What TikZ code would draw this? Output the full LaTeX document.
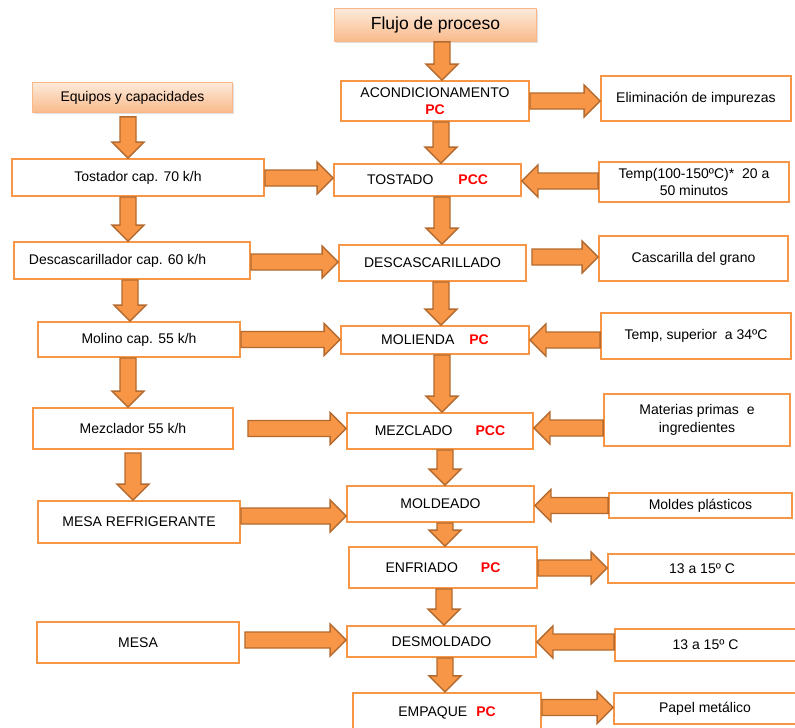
\documentclass[tikz,border=0pt]{standalone}
\usepackage{fontspec}
\setmainfont{Liberation Sans}
\usetikzlibrary{calc,shadows}

\definecolor{boxline}{RGB}{247,150,70}
\definecolor{arrowfill}{RGB}{247,150,70}
\definecolor{arrowline}{RGB}{180,106,46}
\definecolor{headtop}{RGB}{253,234,218}
\definecolor{headbottom}{RGB}{249,186,138}
\definecolor{headline}{RGB}{248,184,136}
\definecolor{critical}{RGB}{255,0,0}

% red bold mark for control points
\newcommand\crit[1]{\textcolor{critical}{\bfseries #1}}

% block arrow from a start point to a tip point
\newcommand\flowarrow[2]{%
  \path (#1) coordinate (fa-s);
  \path (#2) coordinate (fa-t);
  \path ($(fa-t)!16pt!(fa-s)$) coordinate (fa-b);
  \draw[blockarrow]
    ($(fa-s)!8pt!90:(fa-t)$) -- ($(fa-b)!8pt!90:(fa-t)$) --
    ($(fa-b)!16pt!90:(fa-t)$) -- (fa-t) --
    ($(fa-b)!16pt!-90:(fa-t)$) -- ($(fa-b)!8pt!-90:(fa-t)$) --
    ($(fa-s)!8pt!-90:(fa-t)$) -- cycle;}
% horizontal and vertical variants: the tip lies on the target's edge
\newcommand\flowh[2]{\flowarrow{#1}{#2 |- fa-s}}
\newcommand\flowv[2]{\flowarrow{#1}{fa-s |- #2}}

\begin{document}
\begin{tikzpicture}[x=1pt,y=-1pt,
  every node/.style={font=\fontsize{14}{17.5}\selectfont, inner sep=0pt},
  box/.style={draw=boxline, line width=2.4pt, fill=white, align=center},
  header/.style={draw=headline, line width=0.8pt, top color=headtop,
    bottom color=headbottom, align=center,
    drop shadow={shadow xshift=1.5pt, shadow yshift=-1.5pt, opacity=0.25}},
  blockarrow/.style={fill=arrowfill, draw=arrowline, line width=1.4pt,
    line join=miter}]

\useasboundingbox (0,0) rectangle (795,728);
\clip (0,0) rectangle (795,728);

% headings
\node[header, minimum width=202pt, minimum height=33pt,
  font=\fontsize{17.5}{20}\selectfont] (flujo) at (435.5,25) {Flujo de proceso};
\node[header, minimum width=200pt, minimum height=30pt] (equipos) at (132.5,97.5) {Equipos y capacidades};

% equipment column
\node[box, minimum width=251.5pt, minimum height=36.5pt] (tostador) at (138,177.5) {Tostador cap. 70 k/h};
\node[box, minimum width=235.5pt, minimum height=36.5pt] (descador) at (132,260.5) {Descascarillador cap. 60 k/h\hspace{29pt}};
\node[box, minimum width=201.5pt, minimum height=34.5pt] (molino) at (139,339.5) {Molino cap. 55 k/h};
\node[box, minimum width=199.5pt, minimum height=40.5pt] (mezclador) at (133,428.5) {Mezclador 55 k/h};
\node[box, minimum width=201.5pt, minimum height=41.5pt] (mesaref) at (139,522) {MESA REFRIGERANTE};
\node[box, minimum width=201.5pt, minimum height=40.5pt] (mesa) at (138,642.5) {MESA};

% process column
\node[box, minimum width=187.5pt, minimum height=39.5pt] (acond) at (435,101) {ACONDICIONAMENTO\\\crit{PC}};
\node[box, minimum width=186.5pt, minimum height=31.5pt] (tostado) at (427.5,180) {TOSTADO\hspace{25pt}\crit{PCC}};
\node[box, minimum width=186.5pt, minimum height=35.5pt] (descado) at (432.5,263) {DESCASCARILLADO};
\node[box, minimum width=187.5pt, minimum height=27.5pt] (molienda) at (435,340) {MOLIENDA\hspace{15pt}\crit{PC}};
\node[box, minimum width=185.5pt, minimum height=35.5pt] (mezclado) at (440,431) {MEZCLADO\hspace{23pt}\crit{PCC}};
\node[box, minimum width=186.5pt, minimum height=35.5pt] (moldeado) at (440.5,504) {MOLDEADO};
\node[box, minimum width=187.5pt, minimum height=40.5pt] (enfriado) at (443,567.5) {ENFRIADO\hspace{23pt}\crit{PC}};
\node[box, minimum width=188.5pt, minimum height=30.5pt] (desmoldado) at (441.5,641.5) {DESMOLDADO};
\node[box, minimum width=187.5pt, minimum height=40pt] (empaque) at (447,713) {EMPAQUE\hspace{9pt}\crit{PC}};

% inputs and outputs column
\node[box, minimum width=189.5pt, minimum height=44.5pt] (elim) at (696,98.5) {Eliminación de impurezas};
\node[box, minimum width=189.5pt, minimum height=39.5pt] (tempa) at (694,182) {Temp(100-150ºC)*\ \ 20 a\\50 minutos};
\node[box, minimum width=188.5pt, minimum height=44.5pt] (cascarilla) at (693.5,258.5) {Cascarilla del grano};
\node[box, minimum width=189.5pt, minimum height=45.5pt] (tempb) at (696,336) {Temp, superior\ \ a 34ºC};
\node[box, minimum width=185.5pt, minimum height=51.5pt] (materias) at (697,420) {Materias primas\ \ e\\ingredientes};
\node[box, minimum width=182.5pt, minimum height=24.5pt] (moldes) at (700.5,505.5) {Moldes plásticos};
\node[box, minimum width=187.5pt, minimum height=28.5pt] (tempc) at (702,568.5) {13 a 15º C};
\node[box, minimum width=180.5pt, minimum height=31.5pt] (tempd) at (705.5,645) {13 a 15º C};
\node[box, minimum width=181.5pt, minimum height=30.5pt] (papel) at (705,708.5) {Papel metálico};

% equipment column flow
\flowv{$(equipos.south)+(-4.5,4)$}{tostador.north}
\flowv{$(tostador.south)+(-10,0)$}{descador.north}
\flowv{$(descador.south)+(-2,0)$}{molino.north}
\flowv{$(molino.south)+(-11,0)$}{mezclador.north}
\flowv{$(mezclador.south)+(0,3)$}{mesaref.north}

% equipment to process steps
\flowh{$(tostador.east)+(0,0.5)$}{tostado.west}
\flowh{$(descador.east)+(0,1.5)$}{descado.west}
\flowh{$(molino.east)+(0,0)$}{molienda.west}
\flowh{$(mezclador.east)+(14,0)$}{mezclado.west}
\flowh{$(mesaref.east)+(0,-6)$}{moldeado.west}
\flowh{$(mesa.east)+(5,-2.5)$}{desmoldado.west}

% process flow
\flowv{$(flujo.south)+(6.5,0)$}{acond.north}
\flowv{$(acond.south)+(6,0)$}{tostado.north}
\flowv{$(tostado.south)+(14.5,0)$}{descado.north}
\flowv{$(descado.south)+(8.5,0)$}{molienda.north}
\flowv{$(molienda.south)+(7,0)$}{mezclado.north}
\flowv{$(mezclado.south)+(5,0)$}{moldeado.north}
\flowv{$(moldeado.south)+(4.5,0)$}{enfriado.north}
\flowv{$(enfriado.south)+(1,0)$}{desmoldado.north}
\flowv{$(desmoldado.south)+(3.5,0)$}{empaque.north}

% inputs and outputs
\flowh{$(acond.east)+(0,0)$}{elim.west}
\flowh{$(tempa.west)+(0,-1)$}{tostado.east}
\flowh{$(descado.east)+(5,-6)$}{cascarilla.west}
\flowh{$(tempb.west)+(0,4)$}{molienda.east}
\flowh{$(materias.west)+(0,8)$}{mezclado.east}
\flowh{$(moldes.west)+(0,0)$}{moldeado.east}
\flowh{$(enfriado.east)+(0,0.5)$}{tempc.west}
\flowh{$(tempd.west)+(0,-3)$}{desmoldado.east}
\flowh{$(empaque.east)+(0,-5.5)$}{papel.west}

\end{tikzpicture}
\end{document}
